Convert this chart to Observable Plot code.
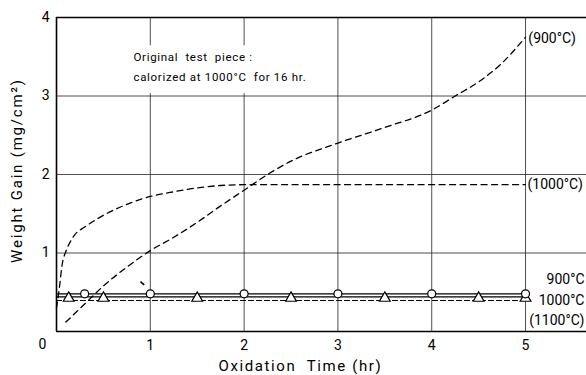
<!DOCTYPE html>
<html>
<head>
<meta charset="utf-8">
<script src="https://cdn.jsdelivr.net/npm/d3@7"></script>
<script src="https://cdn.jsdelivr.net/npm/@observablehq/plot@0.6"></script>
<style>
  html, body { margin: 0; padding: 0; background: white; }
  svg { display: block; }
</style>
</head>
<body>
<div id="chart"></div>
<script>
// 900°C curve (dashed, rising to ~3.75)
const time900 = [0.1, 0.3, 0.5, 0.75, 1.0, 1.25, 1.5, 1.75, 2.0, 2.25, 2.5, 3.0, 3.5, 4.0, 4.25, 4.5, 4.75, 5.0];
const gain900 = [0.12, 0.35, 0.58, 0.82, 1.03, 1.2, 1.39, 1.6, 1.8, 2.0, 2.17, 2.4, 2.6, 2.82, 3.0, 3.18, 3.42, 3.75];
// 1000°C curve (dashed, saturating at ~1.87)
const time1000 = [0.0, 0.03, 0.06, 0.1, 0.15, 0.2, 0.3, 0.5, 0.75, 1.0, 1.25, 1.5, 1.75, 2.0, 5.0];
const gain1000 = [0.3, 0.55, 0.85, 1.02, 1.15, 1.24, 1.33, 1.48, 1.62, 1.72, 1.78, 1.83, 1.86, 1.87, 1.87];
// Flat series of the original test piece
const flatTime = [0, 5];
const flat900 = [0.48, 0.48];
const flat1000 = [0.44, 0.44];
const flat1100 = [0.395, 0.395];
const circleTimes = [0.3, 1, 2, 3, 4, 5];
const triangleTimes = [0.13, 0.5, 1.5, 2.5, 3.5, 4.5, 5];
const xTicks = [1, 2, 3, 4, 5];
const yTicks = [1, 2, 3, 4];
const noteLines = ["Original  test  piece :", "calorized at 1000°C  for 16 hr."];

const zipTG = (t, g) => t.map((v, i) => ({t: v, g: g[i]}));
const d900 = zipTG(time900, gain900);
const d1000 = zipTG(time1000, gain1000);
const f900 = zipTG(flatTime, flat900);
const f1000 = zipTG(flatTime, flat1000);
const f1100 = zipTG(flatTime, flat1100);

const font = "Roboto, 'DejaVu Sans', sans-serif";

const chart = Plot.plot({
  width: 586,
  height: 375,
  marginLeft: 56,
  marginRight: 0,
  marginTop: 17,
  marginBottom: 44,
  style: {fontFamily: font, background: "white", color: "black", overflow: "visible"},
  x: {domain: [0, 5.65], axis: null},
  y: {domain: [0, 4], axis: null},
  marks: [
    // grid
    Plot.ruleX(xTicks, {y1: 0, y2: 4, stroke: "#222", strokeWidth: 0.8}),
    Plot.ruleY([1, 2, 3], {stroke: "#222", strokeWidth: 0.8}),
    // white box behind note
    Plot.rect([0], {x1: 0.77, x2: 2.95, y1: 3.03, y2: 3.64, fill: "white"}),
    // frame
    Plot.ruleX([0], {y1: 0, y2: 4, stroke: "black", strokeWidth: 1.6}),
    Plot.ruleY([0], {stroke: "black", strokeWidth: 1.3}),
    Plot.ruleY([4], {stroke: "black", strokeWidth: 1.6}),
    // curves
    Plot.line(d900, {x: "t", y: "g", curve: "monotone-x", stroke: "black", strokeWidth: 1.3, strokeDasharray: "6,4.5"}),
    Plot.line(d1000, {x: "t", y: "g", curve: "monotone-x", stroke: "black", strokeWidth: 1.3, strokeDasharray: "6,4.5"}),
    Plot.line(f1100, {x: "t", y: "g", stroke: "black", strokeWidth: 1.2, strokeDasharray: "5,3"}),
    Plot.line(f900, {x: "t", y: "g", stroke: "black", strokeWidth: 1.3}),
    Plot.line(f1000, {x: "t", y: "g", stroke: "black", strokeWidth: 1.3}),
    Plot.dot(triangleTimes, {x: d => d, y: flat1000[0] - 0.015, symbol: "triangle", r: 4, fill: "white", stroke: "black", strokeWidth: 1.2}),
    Plot.dot(circleTimes, {x: d => d, y: flat900[0], r: 4, fill: "white", stroke: "black", strokeWidth: 1.2}),
    // small arrow mark
    Plot.link([0], {x1: 0.895, y1: 0.635, x2: 0.935, y2: 0.595, stroke: "black", strokeWidth: 1.6}),
    // axes
    Plot.axisX(xTicks, {tickSize: 0, tickPadding: 9, fontSize: 14, label: null, tickFormat: "d"}),
    Plot.axisY(yTicks, {tickSize: 0, tickPadding: 7, fontSize: 14, label: null, tickFormat: "d"}),
    Plot.text(["0"], {x: 0, y: 0, dx: -14, dy: 13, fontSize: 14}),
    Plot.text(["Oxidation  Time (hr)"], {x: 2.6, y: 0, dy: 35, fontSize: 15}),
    Plot.text(["Weight Gain (mg/cm²)"], {x: 0, y: 2.05, dx: -39, rotate: -90, fontSize: 15}),
    // note
    Plot.text(noteLines, {x: 0.82, y: (d, i) => 3.49 - i * 0.25, textAnchor: "start", fontSize: 11.5}),
    // curve labels
    Plot.text(["(900°C)"], {x: 5.03, y: 3.73, textAnchor: "start", fontSize: 14}),
    Plot.text(["(1000°C)"], {x: 5.0, y: 1.87, dx: 2, textAnchor: "start", fontSize: 14}),
    Plot.text(["900°C", "1000°C", "(1100°C)"], {x: 5.65, y: (d, i) => [0.66, 0.4, 0.14][i], dx: -2, textAnchor: "end", fontSize: 14})
  ]
});

document.getElementById("chart").appendChild(chart);
d3.select(chart).selectAll("text").each(function() {
  const t = this.textContent;
  if (t.startsWith("Oxidation")) this.setAttribute("letter-spacing", "1.6");
  if (t.startsWith("Weight")) this.setAttribute("letter-spacing", "1.8");
  if (t.startsWith("Original") || t.startsWith("calorized")) this.setAttribute("letter-spacing", "0.7");
});
</script>
</body>
</html>
